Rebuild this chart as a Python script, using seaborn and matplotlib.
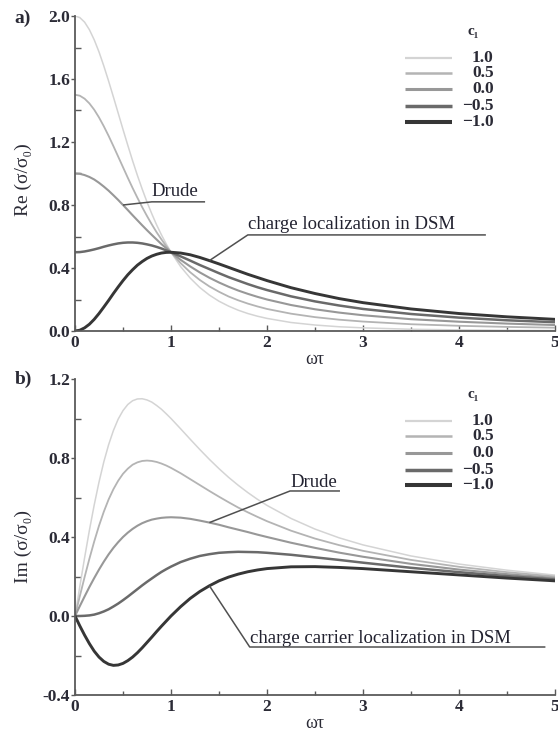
import matplotlib
matplotlib.use("Agg")
import matplotlib.pyplot as plt
from matplotlib.ticker import MultipleLocator, FormatStrFormatter
import seaborn as sns
import pandas as pd

# ---------------- data ----------------
wt = [0.0, 0.05, 0.1, 0.15, 0.2, 0.25, 0.3, 0.35, 0.4, 0.45, 0.5, 0.55, 0.6, 0.65,
      0.7, 0.75, 0.8, 0.85, 0.9, 0.95, 1.0, 1.1, 1.2, 1.3, 1.4, 1.5, 1.6, 1.7, 1.8,
      1.9, 2.0, 2.25, 2.5, 2.75, 3.0, 3.5, 4.0, 4.5, 5.0]

c1_labels = ["1.0", "0.5", "0.0", "\u22120.5", "\u22121.0"]

re_p10 = [2.000, 1.990, 1.961, 1.913, 1.849, 1.772, 1.683, 1.587, 1.486, 1.383, 1.280,
          1.179, 1.081, 0.988, 0.901, 0.819, 0.744, 0.674, 0.611, 0.553, 0.500, 0.409,
          0.336, 0.276, 0.228, 0.189, 0.158, 0.132, 0.111, 0.094, 0.080, 0.054, 0.038,
          0.027, 0.020, 0.011, 0.007, 0.004, 0.003]
re_p05 = [1.500, 1.494, 1.475, 1.445, 1.405, 1.356, 1.300, 1.239, 1.174, 1.107, 1.040,
          0.973, 0.908, 0.846, 0.786, 0.730, 0.677, 0.627, 0.582, 0.539, 0.500, 0.431,
          0.373, 0.324, 0.283, 0.249, 0.219, 0.195, 0.174, 0.156, 0.140, 0.110, 0.088,
          0.072, 0.060, 0.043, 0.033, 0.026, 0.021]
re_0 = [1.000, 0.998, 0.990, 0.978, 0.962, 0.941, 0.917, 0.891, 0.862, 0.832, 0.800,
        0.768, 0.735, 0.703, 0.671, 0.640, 0.610, 0.581, 0.552, 0.526, 0.500, 0.452,
        0.410, 0.372, 0.338, 0.308, 0.281, 0.257, 0.236, 0.217, 0.200, 0.165, 0.138,
        0.117, 0.100, 0.075, 0.059, 0.047, 0.038]
re_m05 = [0.500, 0.501, 0.505, 0.511, 0.518, 0.526, 0.535, 0.543, 0.550, 0.556, 0.560,
          0.562, 0.562, 0.560, 0.556, 0.550, 0.543, 0.534, 0.524, 0.512, 0.500, 0.474,
          0.447, 0.419, 0.393, 0.367, 0.342, 0.320, 0.298, 0.278, 0.260, 0.220, 0.188,
          0.162, 0.140, 0.108, 0.085, 0.068, 0.056]
re_m10 = [0.000, 0.005, 0.020, 0.043, 0.074, 0.111, 0.152, 0.194, 0.238, 0.280, 0.320,
          0.357, 0.389, 0.418, 0.441, 0.461, 0.476, 0.487, 0.495, 0.499, 0.500, 0.495,
          0.484, 0.467, 0.447, 0.426, 0.404, 0.382, 0.360, 0.340, 0.320, 0.275, 0.238,
          0.206, 0.180, 0.140, 0.111, 0.090, 0.074]

im_p10 = [0.000, 0.149, 0.295, 0.434, 0.562, 0.678, 0.780, 0.867, 0.939, 0.997, 1.040,
          1.071, 1.090, 1.099, 1.100, 1.094, 1.083, 1.066, 1.047, 1.024, 1.000, 0.948,
          0.895, 0.843, 0.793, 0.746, 0.702, 0.662, 0.625, 0.591, 0.560, 0.494, 0.440,
          0.396, 0.360, 0.304, 0.263, 0.232, 0.207]
im_p05 = [0.000, 0.100, 0.197, 0.290, 0.377, 0.457, 0.528, 0.590, 0.642, 0.685, 0.720,
          0.746, 0.766, 0.778, 0.785, 0.787, 0.785, 0.780, 0.772, 0.762, 0.750, 0.723,
          0.693, 0.663, 0.633, 0.604, 0.576, 0.549, 0.525, 0.502, 0.480, 0.432, 0.392,
          0.359, 0.330, 0.284, 0.249, 0.222, 0.200]
im_0 = [0.000, 0.050, 0.099, 0.147, 0.192, 0.235, 0.275, 0.312, 0.345, 0.374, 0.400,
        0.422, 0.441, 0.457, 0.470, 0.480, 0.488, 0.493, 0.497, 0.499, 0.500, 0.498,
        0.492, 0.483, 0.473, 0.462, 0.449, 0.437, 0.425, 0.412, 0.400, 0.371, 0.345,
        0.321, 0.300, 0.264, 0.235, 0.212, 0.192]
im_m05 = [0.000, 0.000, 0.001, 0.003, 0.007, 0.014, 0.023, 0.034, 0.048, 0.063, 0.080,
          0.098, 0.117, 0.136, 0.155, 0.173, 0.190, 0.207, 0.223, 0.237, 0.250, 0.273,
          0.290, 0.304, 0.313, 0.320, 0.323, 0.325, 0.324, 0.323, 0.320, 0.310, 0.297,
          0.284, 0.270, 0.244, 0.222, 0.202, 0.185]
im_m10 = [0.000, -0.050, -0.097, -0.140, -0.178, -0.208, -0.230, -0.244, -0.250, -0.248,
          -0.240, -0.226, -0.208, -0.186, -0.161, -0.134, -0.107, -0.079, -0.052, -0.026,
          0.000, 0.047, 0.089, 0.124, 0.153, 0.178, 0.197, 0.212, 0.224, 0.233, 0.240,
          0.249, 0.250, 0.246, 0.240, 0.224, 0.208, 0.192, 0.178]

re_series = [re_p10, re_p05, re_0, re_m05, re_m10]
im_series = [im_p10, im_p05, im_0, im_m05, im_m10]

# ---------------- styles ----------------
colors = {"1.0": "#d4d4d4", "0.5": "#b4b4b4", "0.0": "#989898",
          "\u22120.5": "#6a6a6a", "\u22121.0": "#363636"}
widths = {"1.0": 1.1, "0.5": 1.3, "0.0": 1.5, "\u22120.5": 1.8, "\u22121.0": 2.1}
leg_widths = {"1.0": 1.6, "0.5": 1.8, "0.0": 2.2, "\u22120.5": 2.5, "\u22121.0": 2.9}

rows = []
for lab, rs, ims in zip(c1_labels, re_series, im_series):
    for x, r, i in zip(wt, rs, ims, strict=True):
        rows.append({"wt": x, "re": r, "im": i, "c1": lab})
df = pd.DataFrame(rows)

sns.set_theme(style="white")
plt.rcParams["font.family"] = ["Liberation Serif", "DejaVu Serif"]
plt.rcParams["axes.unicode_minus"] = True

TXT = "#2b2b36"
SP = "#5a5a5a"

fig = plt.figure(figsize=(5.58, 7.32), dpi=100)
ax_a = fig.add_axes([75 / 558, (732 - 331) / 732, 480 / 558, 315 / 732])
ax_b = fig.add_axes([75 / 558, (732 - 695) / 732, 480 / 558, 316 / 732])


def style_axes(ax, ylim, ymajor, ylabel, ylab_y):
    sns.despine(ax=ax)
    ax.set_xlim(0, 5)
    ax.set_ylim(*ylim)
    for s in ("left", "bottom"):
        ax.spines[s].set_color(SP)
        ax.spines[s].set_linewidth(1.3)
    ax.xaxis.set_major_locator(MultipleLocator(1))
    ax.xaxis.set_minor_locator(MultipleLocator(0.5))
    ax.yaxis.set_major_locator(MultipleLocator(ymajor))
    ax.yaxis.set_minor_locator(MultipleLocator(ymajor / 2))
    ax.yaxis.set_major_formatter(FormatStrFormatter("%.1f"))
    ax.tick_params(axis="y", which="major", direction="out", length=3, width=1.0,
                   color=SP, pad=0.5, labelsize=12.5, labelcolor=TXT, left=True)
    ax.tick_params(axis="y", which="minor", direction="in", length=4, width=1.0,
                   color=SP, left=True)
    ax.tick_params(axis="x", which="major", direction="in", length=4, width=1.0,
                   color=SP, pad=3, labelsize=12.5, labelcolor=TXT, bottom=True)
    ax.tick_params(axis="x", which="minor", direction="in", length=3, width=1.0,
                   color=SP, bottom=True)
    for t in ax.get_xticklabels() + ax.get_yticklabels():
        t.set_fontweight("bold")
    ax.set_xlabel("\u03c9\u03c4", fontsize=13, color=TXT, labelpad=0)
    ax.set_ylabel(ylabel, fontsize=14, color=TXT)
    ax.yaxis.set_label_coords(-0.09, ylab_y)
    ax.grid(False)


def draw_legend(ax):
    ys = [0.867, 0.819, 0.767, 0.713, 0.664]
    for lab, y in zip(c1_labels, ys):
        ax.plot([0.6875, 0.785], [y, y], transform=ax.transAxes, color=colors[lab],
                lw=leg_widths[lab], solid_capstyle="butt", clip_on=False)
        ax.text(0.872, y, lab, transform=ax.transAxes, ha="right", va="center",
                fontsize=12.5, color=TXT, fontweight="bold")
    ax.text(0.829, 0.95, "c\u2081", transform=ax.transAxes, ha="center", va="center",
            fontsize=11, color=TXT, fontweight="bold")


def annotate(ax, txt, tx, ty, ul_y, ul_x1, pt):
    ax.text(tx, ty, txt, fontsize=13.5, color="#222230", ha="left", va="baseline")
    ax.plot([pt[0], tx, ul_x1], [pt[1], ul_y, ul_y], color="#505050", lw=1.1,
            solid_capstyle="butt", zorder=3)


order = c1_labels
# ---- panel a ----
sns.lineplot(data=df, x="wt", y="re", hue="c1", size="c1", hue_order=order,
             size_order=order, palette=colors, sizes=widths, legend=False,
             ax=ax_a, sort=False)
style_axes(ax_a, (0, 2.0), 0.4, "Re (\u03c3/\u03c3\u2080)", 0.48)
draw_legend(ax_a)
annotate(ax_a, "Drude", 0.80, 0.855, 0.82, 1.355, (wt[10], re_0[10]))
annotate(ax_a, "charge localization in DSM", 1.80, 0.645, 0.61, 4.28, (wt[24], re_m10[24]))
fig.text(23 / 558, 1 - 18 / 732, "a)", fontsize=14, fontweight="bold", color=TXT,
         ha="center", va="center")

# ---- panel b ----
sns.lineplot(data=df, x="wt", y="im", hue="c1", size="c1", hue_order=order,
             size_order=order, palette=colors, sizes=widths, legend=False,
             ax=ax_b, sort=False)
style_axes(ax_b, (-0.4, 1.2), 0.4, "Im (\u03c3/\u03c3\u2080)", 0.47)
draw_legend(ax_b)
annotate(ax_b, "Drude", 2.24, 0.655, 0.633, 2.76, (wt[24], im_0[24]))
annotate(ax_b, "charge carrier localization in DSM", 1.82, -0.135, -0.157, 4.90,
         (wt[24], im_m10[24]))
fig.text(23 / 558, 1 - 379 / 732, "b)", fontsize=14, fontweight="bold", color=TXT,
         ha="center", va="center")

fig.savefig("out.png", dpi=100)
